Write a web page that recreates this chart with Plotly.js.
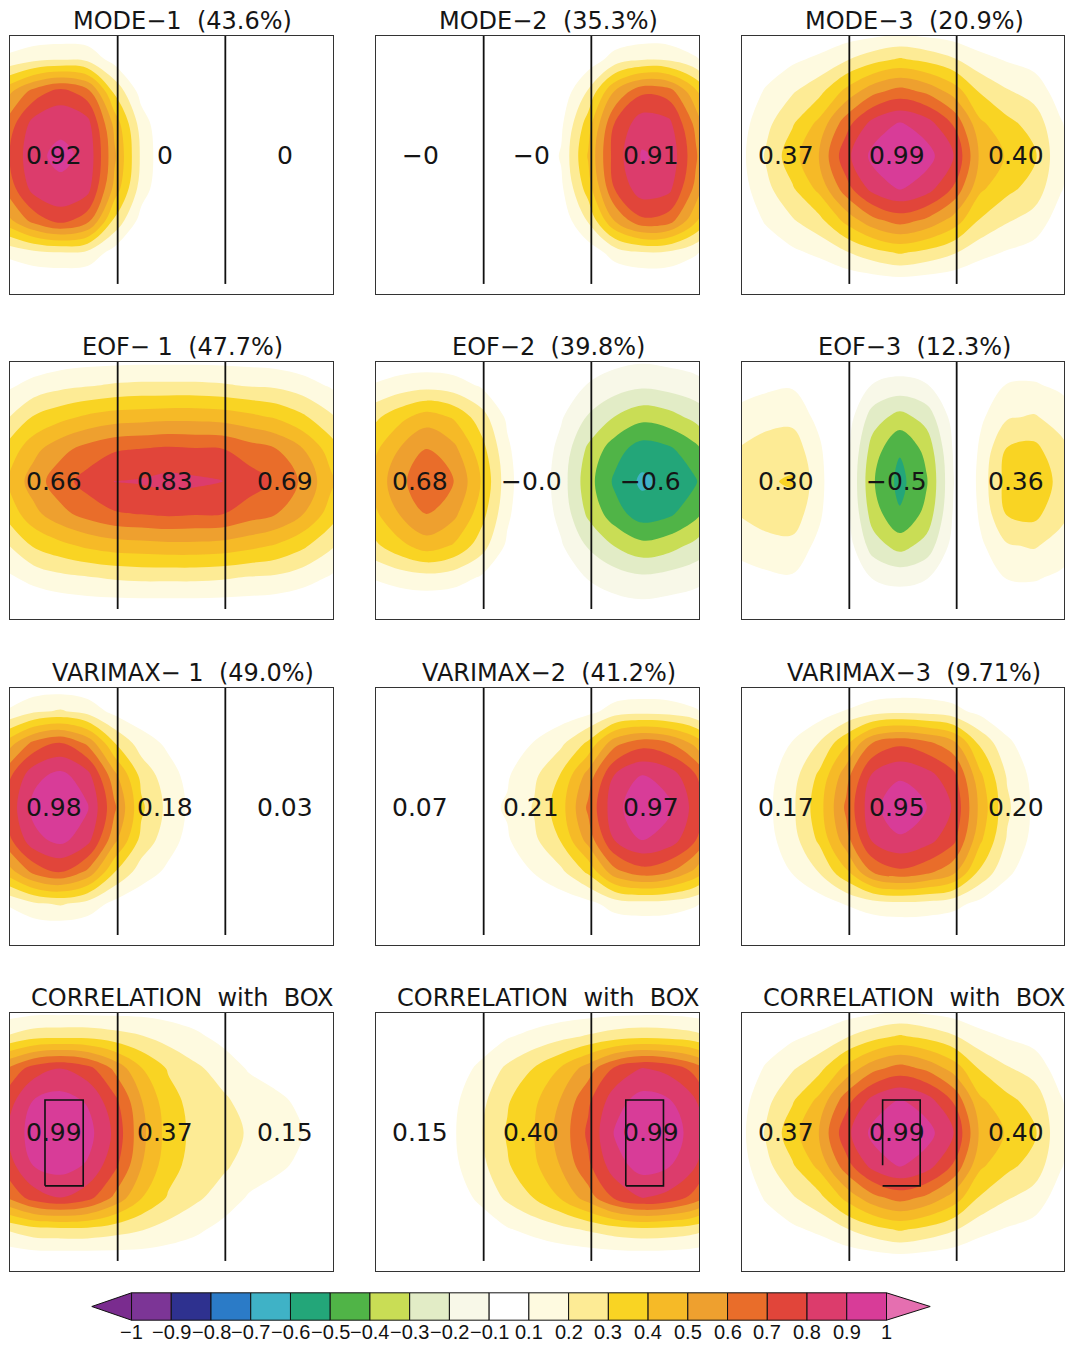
<!DOCTYPE html>
<html><head><meta charset="utf-8">
<script src="https://cdn.plot.ly/plotly-3.0.1.min.js"></script>
<style>html,body{margin:0;padding:0;background:#fff}</style>
</head><body>
<div id="chart" style="width:1075px;height:1345px"></div>
<script>
// grid positions (x: 3 sub-regions of width 1; y: 0..1 panel height)
const xGrid = [-0.03,0.22,0.47,0.72,0.97,1.22,1.47,1.72,1.97,2.22,2.47,2.72,2.97,3.22];
const yGrid = [-0.09,0.035,0.16,0.285,0.41,0.535,0.66,0.785,0.91,1.035];

const mode1Z = [
 [0,0,0,0,0,0,0,0,0,0,0,0,0,0],
 [0,0,0,0,0,0,0,0,0,0,0,0,0,0],
 [.12,.17,.19,.17,.06,0,0,0,0,0,0,0,0,0],
 [.46,.64,.74,.64,.28,.06,0,0,0,0,0,0,0,0],
 [.63,.84,.88,.84,.47,.15,0,0,0,0,0,0,0,0],
 [.68,.88,.92,.88,.52,.18,0,0,0,0,0,0,0,0],
 [.63,.84,.88,.84,.47,.15,0,0,0,0,0,0,0,0],
 [.46,.64,.74,.64,.28,.06,0,0,0,0,0,0,0,0],
 [.12,.17,.19,.17,.06,0,0,0,0,0,0,0,0,0],
 [0,0,0,0,0,0,0,0,0,0,0,0,0,0]
];
const mode2Z = [
 [0,0,0,0,0,0,0,0,0,0,0,0,0,0],
 [0,0,0,0,0,0,0,0,0,0,0,0,0,0],
 [0,0,0,0,0,0,0,0,.04,.14,.19,.18,.11,.03],
 [0,0,0,0,0,0,0,.03,.21,.51,.68,.65,.42,.14],
 [0,0,0,0,0,0,0,.08,.35,.71,.86,.83,.57,.22],
 [0,0,0,0,0,0,0,.11,.41,.75,.91,.88,.62,.25],
 [0,0,0,0,0,0,0,.08,.35,.71,.86,.83,.57,.22],
 [0,0,0,0,0,0,0,.03,.21,.51,.68,.65,.42,.14],
 [0,0,0,0,0,0,0,0,.04,.14,.19,.18,.11,.03],
 [0,0,0,0,0,0,0,0,0,0,0,0,0,0]
];
const mode3Z = [
 [0,0,0,0,0,0,0,0,0,0,0,0,0,0],
 [0,0,0,0,.01,.02,.03,.02,.01,0,0,0,0,0],
 [0,.04,.08,.12,.19,.26,.31,.27,.21,.13,.09,.06,.01,0],
 [.02,.11,.19,.27,.43,.57,.64,.58,.46,.29,.21,.16,.05,0],
 [.05,.17,.29,.43,.66,.84,.91,.85,.69,.42,.33,.26,.11,0],
 [.06,.21,.36,.51,.77,.93,.99,.94,.81,.48,.39,.32,.12,0],
 [.05,.17,.29,.43,.66,.84,.91,.85,.69,.42,.33,.26,.11,0],
 [.02,.11,.19,.27,.43,.57,.64,.58,.46,.29,.21,.16,.05,0],
 [0,.04,.08,.12,.19,.26,.31,.27,.21,.13,.09,.06,.01,0],
 [0,0,0,0,.01,.02,.03,.02,.01,0,0,0,0,0]
];
const eof1Z = [
 [0,0,0,0,0,0,0,0,0,0,0,0,0,0],
 [0,.01,.02,.03,.03,.03,.03,.03,.03,.03,.02,.01,0,0],
 [.08,.13,.17,.19,.21,.22,.22,.22,.21,.19,.18,.14,.09,.04],
 [.19,.31,.37,.42,.45,.46,.47,.47,.46,.43,.39,.32,.22,.12],
 [.33,.47,.57,.64,.69,.705,.72,.71,.705,.65,.605,.505,.36,.205],
 [.405,.55,.66,.74,.805,.81,.83,.82,.805,.75,.69,.58,.43,.25],
 [.33,.47,.57,.64,.69,.705,.72,.71,.705,.65,.605,.505,.36,.205],
 [.19,.31,.37,.42,.45,.46,.47,.47,.46,.43,.39,.32,.22,.12],
 [.08,.13,.17,.19,.21,.22,.22,.22,.21,.19,.18,.14,.09,.04],
 [0,.01,.02,.03,.03,.03,.03,.03,.03,.03,.02,.01,0,0]
];
const eof2Z = [
 [0,0,0,0,0,0,0,0,0,0,0,0,0,0],
 [0,.01,.01,.01,0,0,0,0,-.03,-.05,-.06,-.05,-.04,-.02],
 [.105,.14,.16,.14,.09,.02,0,-.04,-.105,-.15,-.18,-.16,-.13,-.08],
 [.27,.37,.45,.39,.25,.08,-.01,-.09,-.21,-.305,-.37,-.34,-.27,-.18],
 [.37,.505,.605,.53,.35,.12,-.02,-.13,-.32,-.46,-.55,-.52,-.43,-.27],
 [.42,.57,.68,.605,.405,.14,-.02,-.15,-.36,-.52,-.62,-.58,-.51,-.32],
 [.37,.505,.605,.53,.35,.12,-.02,-.13,-.32,-.46,-.55,-.52,-.43,-.27],
 [.27,.37,.45,.39,.25,.08,-.01,-.09,-.21,-.305,-.37,-.34,-.27,-.18],
 [.105,.14,.16,.14,.09,.02,0,-.04,-.105,-.15,-.18,-.16,-.13,-.08],
 [0,.01,.01,.01,0,0,0,0,-.03,-.05,-.06,-.05,-.04,-.02]
];
const eof3Z = [
 [0,0,0,0,0,0,0,0,0,0,0,0,0,0],
 [.01,.01,.02,0,0,-.01,-.02,-.01,0,0,.02,.02,.01,0],
 [.06,.08,.09,.03,-.02,-.105,-.13,-.105,-.03,.04,.105,.11,.08,.04],
 [.13,.16,.17,.07,-.04,-.25,-.34,-.26,-.06,.08,.19,.21,.16,.09],
 [.205,.25,.26,.12,-.06,-.35,-.49,-.37,-.09,.12,.31,.33,.23,.13],
 [.23,.29,.31,.14,-.07,-.39,-.53,-.41,-.105,.14,.34,.37,.27,.15],
 [.205,.25,.26,.12,-.06,-.35,-.49,-.37,-.09,.12,.31,.33,.23,.13],
 [.13,.16,.17,.07,-.04,-.25,-.34,-.26,-.06,.08,.19,.21,.16,.09],
 [.06,.08,.09,.03,-.02,-.105,-.13,-.105,-.03,.04,.105,.11,.08,.04],
 [.01,.01,.02,0,0,-.01,-.02,-.01,0,0,.02,.02,.01,0]
];
const vari1Z = [
 [0,0,0,0,0,0,0,0,0,0,0,0,0,0],
 [0,0,0,0,0,0,0,0,0,0,0,0,0,0],
 [.105,.18,.21,.16,.07,.03,0,.01,.01,.01,.01,0,0,0],
 [.44,.63,.705,.58,.305,.15,.08,.03,.02,.02,.02,.01,0,0],
 [.66,.87,.93,.84,.53,.27,.14,.05,.03,.03,.03,.02,.01,0],
 [.72,.93,.98,.91,.62,.32,.17,.06,.03,.03,.03,.02,.01,0],
 [.66,.87,.93,.84,.53,.27,.14,.05,.03,.03,.03,.02,.01,0],
 [.44,.63,.705,.58,.305,.15,.08,.03,.02,.02,.02,.01,0,0],
 [.105,.18,.21,.16,.07,.03,0,.01,.01,.01,.01,0,0,0],
 [0,0,0,0,0,0,0,0,0,0,0,0,0,0]
];
const vari2Z = [
 [0,0,0,0,0,0,0,0,0,0,0,0,0,0],
 [0,0,0,0,0,0,0,0,0,0,0,0,0,0],
 [.02,.02,.02,.02,.02,.01,.02,.04,.07,.14,.16,.15,.11,.05],
 [.04,.04,.04,.04,.04,.05,.105,.18,.32,.57,.66,.61,.47,.25],
 [.06,.06,.06,.06,.06,.09,.18,.31,.54,.81,.905,.86,.705,.405],
 [.06,.07,.07,.07,.07,.11,.21,.36,.62,.87,.97,.92,.76,.45],
 [.06,.06,.06,.06,.06,.09,.18,.31,.54,.81,.905,.86,.705,.405],
 [.04,.04,.04,.04,.04,.05,.105,.18,.32,.57,.66,.61,.47,.25],
 [.02,.02,.02,.02,.02,.01,.02,.04,.07,.14,.16,.15,.11,.05],
 [0,0,0,0,0,0,0,0,0,0,0,0,0,0]
];
const vari3Z = [
 [0,0,0,0,0,0,0,0,0,0,0,0,0,0],
 [0,0,0,0,0,0,0,0,0,0,0,0,0,0],
 [0,.01,.02,.05,.105,.15,.17,.16,.13,.07,.03,.01,0,0],
 [.01,.04,.105,.205,.38,.61,.68,.63,.53,.28,.12,.04,.01,0],
 [.02,.06,.16,.32,.56,.82,.89,.84,.73,.42,.19,.07,.02,0],
 [.02,.07,.18,.36,.62,.88,.95,.905,.79,.47,.22,.08,.02,0],
 [.02,.06,.16,.32,.56,.82,.89,.84,.73,.42,.19,.07,.02,0],
 [.01,.04,.105,.205,.38,.61,.68,.63,.53,.28,.12,.04,.01,0],
 [0,.01,.02,.05,.105,.15,.17,.16,.13,.07,.03,.01,0,0],
 [0,0,0,0,0,0,0,0,0,0,0,0,0,0]
];
const corr1Z = [
 [0,0,0,0,0,0,0,0,0,0,0,0,0,0],
 [0,.01,.01,.01,.02,.03,.03,.02,0,0,0,0,0,0],
 [.205,.26,.27,.27,.24,.205,.16,.12,.07,.02,0,0,0,0],
 [.605,.75,.805,.74,.58,.405,.29,.22,.16,.09,.06,.03,.01,0],
 [.75,.905,.94,.89,.73,.505,.34,.26,.22,.16,.12,.08,.04,.02],
 [.805,.95,.99,.94,.78,.53,.36,.27,.24,.19,.15,.105,.06,.03],
 [.75,.905,.94,.89,.73,.505,.34,.26,.22,.16,.12,.08,.04,.02],
 [.605,.75,.805,.74,.58,.405,.29,.22,.16,.09,.06,.03,.01,0],
 [.205,.26,.27,.27,.24,.205,.16,.12,.07,.02,0,0,0,0],
 [0,.01,.01,.01,.02,.03,.03,.02,0,0,0,0,0,0]
];
const corr2Z = [
 [0,0,0,0,0,0,0,0,0,0,0,0,0,0],
 [0,0,0,0,0,0,0,.01,.01,.01,.01,.01,0,0],
 [0,0,0,.01,.04,.09,.13,.17,.21,.25,.27,.26,.23,.16],
 [0,.01,.02,.05,.12,.22,.305,.41,.55,.72,.805,.77,.66,.46],
 [0,.02,.04,.08,.17,.29,.38,.51,.68,.86,.94,.91,.805,.56],
 [0,.02,.05,.09,.19,.31,.405,.54,.72,.91,.99,.96,.85,.605],
 [0,.02,.04,.08,.17,.29,.38,.51,.68,.86,.94,.91,.805,.56],
 [0,.01,.02,.05,.12,.22,.305,.41,.55,.72,.805,.77,.66,.46],
 [0,0,0,.01,.04,.09,.13,.17,.21,.25,.27,.26,.23,.16],
 [0,0,0,0,0,0,0,.01,.01,.01,.01,.01,0,0]
];
const corr3Z = mode3Z;

const titles = [
 "MODE\u22121\u00a0\u00a0(43.6%)", "MODE\u22122\u00a0\u00a0(35.3%)", "MODE\u22123\u00a0\u00a0(20.9%)",
 "EOF\u2212\u00a01\u00a0\u00a0(47.7%)", "EOF\u22122\u00a0\u00a0(39.8%)", "EOF\u22123\u00a0\u00a0(12.3%)",
 "VARIMAX\u2212\u00a01\u00a0\u00a0(49.0%)", "VARIMAX\u22122\u00a0\u00a0(41.2%)", "VARIMAX\u22123\u00a0\u00a0(9.71%)",
 "CORRELATION\u00a0\u00a0with\u00a0\u00a0BOX", "CORRELATION\u00a0\u00a0with\u00a0\u00a0BOX", "CORRELATION\u00a0\u00a0with\u00a0\u00a0BOX"
];
const mode1Labels = ["0.92","0","0"];
const mode2Labels = ["\u22120","\u22120","0.91"];
const mode3Labels = ["0.37","0.99","0.40"];
const eof1Labels = ["0.66","0.83","0.69"];
const eof2Labels = ["0.68","\u22120.0","\u22120.6"];
const eof3Labels = ["0.30","\u22120.5","0.36"];
const vari1Labels = ["0.98","0.18","0.03"];
const vari2Labels = ["0.07","0.21","0.97"];
const vari3Labels = ["0.17","0.95","0.20"];
const corr1Labels = ["0.99","0.37","0.15"];
const corr2Labels = ["0.15","0.40","0.99"];
const corr3Labels = ["0.37","0.99","0.40"];
const labelX = [0.41, 1.44, 2.55];
const labelY = 0.535;
const dividerX = [1, 2];
const dividerY = [0.039, 1];
const corr1BoxX = [0.325,0.68,0.68,0.325,0.325], corr1BoxY = [0.33,0.33,0.663,0.663,0.33];
const corr2BoxX = [2.32,2.67,2.67,2.32,2.32], corr2BoxY = [0.33,0.33,0.663,0.663,0.33];
const corr3BoxX = [1.31,1.31,1.66,1.66,1.31], corr3BoxY = [0.41,0.663,0.663,0.33,0.33];

// colour of each band: [-1,-0.9], [-0.9,-0.8] ... [-0.1,0], [0,0.1] ... [0.9,1]
const bandColors = ['#7c3596','#2e318f','#2b7bc7','#3fb2c6','#23a679','#50b447','#c9dd55','#e2ecc6','#f8f8e8',
 '#ffffff','#ffffff','#fefae0','#fdeb95','#f9d423','#f6ba27','#eea02f','#e96d2a','#e1453a','#dc3c6c','#d83c98'];
const underColor = '#7a2c8f';
const overColor = '#e56fb0';
const cbTicks = ["\u22121","\u22120.9","\u22120.8","\u22120.7","\u22120.6","\u22120.5","\u22120.4","\u22120.3","\u22120.2","\u22120.1","0.1","0.2","0.3","0.4","0.5","0.6","0.7","0.8","0.9","1"];

const panelZ = [mode1Z,mode2Z,mode3Z,eof1Z,eof2Z,eof3Z,vari1Z,vari2Z,vari3Z,corr1Z,corr2Z,corr3Z];
const panelLabels = [mode1Labels,mode2Labels,mode3Labels,eof1Labels,eof2Labels,eof3Labels,vari1Labels,vari2Labels,vari3Labels,corr1Labels,corr2Labels,corr3Labels];
const panelBoxes = {9:[corr1BoxX,corr1BoxY],10:[corr2BoxX,corr2BoxY],11:[corr3BoxX,corr3BoxY]};

const W = 1075, H = 1345;
const colPx = [[10,333],[376,699],[742,1064]];
const rowPx = [[36,294],[362,619],[688,945],[1013,1271]];

// contour colour map spans [-1.1, 1.1] in 22 steps of 0.1: under, 20 bands, over
const scaleColors = [underColor].concat(bandColors).concat([overColor]);
const contourScale = [];
scaleColors.forEach((c,k)=>{ contourScale.push([k/22,c]); contourScale.push([(k+1)/22,c]); });

const traces = [], annotations = [];
const layout = {width:W, height:H, margin:{l:0,r:0,t:0,b:0}, paper_bgcolor:'#fff', plot_bgcolor:'#fff',
  showlegend:false, hovermode:false, annotations:annotations};
const axBase = {showticklabels:false, ticks:'', showgrid:false, zeroline:false, showline:true, mirror:true,
  linecolor:'#333', linewidth:1, fixedrange:true};

panelZ.forEach((z,i)=>{
  const n = i+1, r = Math.floor(i/3), c = i%3;
  const xa = n===1 ? 'x' : 'x'+n, ya = n===1 ? 'y' : 'y'+n;
  const sfx = n===1 ? '' : n;
  layout['xaxis'+sfx] = Object.assign({}, axBase, {domain:[colPx[c][0]/W, colPx[c][1]/W], range:[0,3], anchor:ya});
  layout['yaxis'+sfx] = Object.assign({}, axBase, {domain:[1-rowPx[r][1]/H, 1-rowPx[r][0]/H], range:[0,1], anchor:xa});
  traces.push({type:'contour', x:xGrid, y:yGrid, z:z, xaxis:xa, yaxis:ya, autocontour:false,
    contours:{start:-1, end:1, size:0.1, coloring:'fill', showlines:false},
    line:{width:0, smoothing:1}, colorscale:contourScale, showscale:false, hoverinfo:'skip'});
  traces.push({type:'scatter', mode:'lines', xaxis:xa, yaxis:ya, hoverinfo:'skip',
    x:[dividerX[0],dividerX[0],null,dividerX[1],dividerX[1]],
    y:[dividerY[0],dividerY[1],null,dividerY[0],dividerY[1]],
    line:{color:'#111', width:1.8}});
  if(panelBoxes[i]){
    traces.push({type:'scatter', mode:'lines', xaxis:xa, yaxis:ya, hoverinfo:'skip',
      x:panelBoxes[i][0], y:panelBoxes[i][1], line:{color:'#111', width:1.6}});
  }
  panelLabels[i].forEach((t,k)=>annotations.push({xref:xa, yref:ya, x:labelX[k], y:labelY, text:t,
    showarrow:false, xanchor:'center', yanchor:'middle', font:{family:'DejaVu Sans', size:25, color:'#151515'}}));
  annotations.push({xref:'paper', yref:'paper', x:((colPx[c][0]+colPx[c][1])/2 + 11)/W, y:1-(rowPx[r][0]-15)/H,
    text:titles[i], showarrow:false, xanchor:'center', yanchor:'middle', font:{family:'DejaVu Sans', size:24, color:'#151515'}});
});

// colour bar: 19 boxes (the -0.1..0.1 box is white), triangle ends
const cbColors = bandColors.slice(0,9).concat(['#ffffff']).concat(bandColors.slice(11,20));
const cbX = cbColors.map((_,i)=>i+0.5);
traces.push({type:'bar', x:cbX, y:cbColors.map(()=>1), width:cbColors.map(()=>1), xaxis:'x13', yaxis:'y13',
  marker:{color:cbColors, line:{color:'#111', width:1}}, hoverinfo:'skip'});
traces.push({type:'scatter', mode:'lines', fill:'toself', xaxis:'x13', yaxis:'y13', hoverinfo:'skip',
  x:[0,-1,0,0], y:[0,0.5,1,0], fillcolor:underColor, line:{color:'#111', width:1}});
traces.push({type:'scatter', mode:'lines', fill:'toself', xaxis:'x13', yaxis:'y13', hoverinfo:'skip',
  x:[19,20.1,19,19], y:[0,0.5,1,0], fillcolor:overColor, line:{color:'#111', width:1}});
layout.xaxis13 = {domain:[91/W, 931/W], range:[-1.02,20.12], anchor:'y13', showticklabels:false,
  ticks:'', showgrid:false, zeroline:false, showline:false, fixedrange:true};
layout.yaxis13 = {domain:[1-1321/H, 1-1292/H], range:[-0.03,1.03], anchor:'x13', visible:false, fixedrange:true};
layout.bargap = 0;
cbTicks.forEach((t,i)=>annotations.push({xref:'x13', yref:'paper', x:i, y:1-1332/H, text:t, showarrow:false,
  xanchor:'center', yanchor:'middle',
  font:{family:'Liberation Sans Narrow, Liberation Sans, Arial', size:20, color:'#111'}}));

Plotly.newPlot('chart', traces, layout, {staticPlot:true, displayModeBar:false});
</script>
</body></html>
